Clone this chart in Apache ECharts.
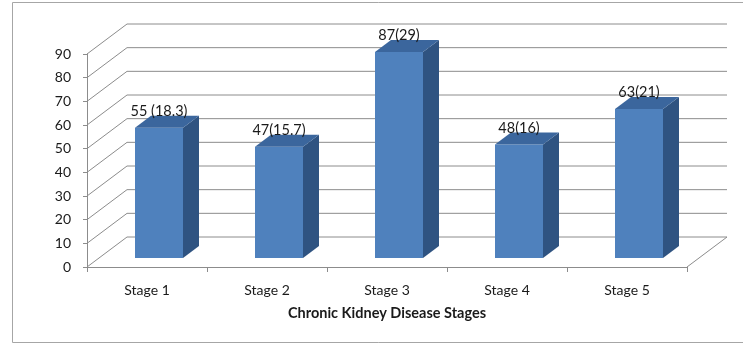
<!DOCTYPE html>
<html>
<head>
<meta charset="utf-8">
<script src="https://cdn.jsdelivr.net/npm/echarts@6/dist/echarts.min.js"></script>
<style>
  html, body { margin: 0; padding: 0; background: #fff; }
  #chart { width: 743px; height: 345px; }
</style>
</head>
<body>
<div id="chart"></div>
<script>
// CKD patients per stage; bracketed figures are the stage percentages
const categories = ['Stage 1', 'Stage 2', 'Stage 3', 'Stage 4', 'Stage 5'];
const patients = [55, 47, 87, 48, 63];
const valueLabels = ['55 (18.3)', '47(15.7)', '87(29)', '48(16)', '63(21)'];
const yTicks = [0, 10, 20, 30, 40, 50, 60, 70, 80, 90];
const xTitle = 'Chronic Kidney Disease Stages';

const FONT = 'Lato, "Open Sans", "DejaVu Sans", sans-serif';
const LINE = '#8c8c8c';

const chart = echarts.init(document.getElementById('chart'), null, { renderer: 'canvas' });

// Perspective offset of the chart floor, expressed relative to one category band
function depth(api) {
  const band = api.size([1, 0])[0];
  return { band: band, dx: band / 3, dy: -band / 4 };
}

// Back-wall gridlines with their diagonals running back from the value axis
const wallSeries = {
  type: 'custom',
  silent: true,
  z: 1,
  data: yTicks.map(v => [0, v]),
  encode: { x: 0, y: 1 },
  renderItem: function (params, api) {
    const v = api.value(1);
    const d = depth(api);
    const y = api.coord([0, v])[1];
    const xL = api.coord([0, v])[0] - d.band / 2;
    const xR = api.coord([categories.length - 1, v])[0] + d.band / 2;
    const children = [{
      type: 'polyline',
      shape: { points: [[xL, y], [xL + d.dx, y + d.dy], [xR + d.dx, y + d.dy]] },
      style: { stroke: LINE, lineWidth: 1, fill: null }
    }];
    if (v === 0) {
      children.push({
        type: 'line',
        shape: { x1: xR, y1: y, x2: xR + d.dx, y2: y + d.dy },
        style: { stroke: LINE, lineWidth: 1 }
      });
    }
    return { type: 'group', children: children };
  }
};

// Box-shaped columns: front face, darker side and top, value caption above
const barSeries = {
  type: 'custom',
  z: 2,
  data: patients.map((v, i) => [i, v]),
  encode: { x: 0, y: 1 },
  renderItem: function (params, api) {
    const i = api.value(0);
    const v = api.value(1);
    const d = depth(api);
    const top = api.coord([i, v]);
    const base = api.coord([i, 0]);
    const f = 0.3, thick = 0.4;
    const bw = d.band * 0.4;
    const xl = top[0] - bw / 2 + f * d.dx;
    const xr = xl + bw;
    const yt = top[1] + f * d.dy;
    const yb = base[1] + f * d.dy;
    const bdx = thick * d.dx, bdy = thick * d.dy;
    return {
      type: 'group',
      children: [
        {
          type: 'rect',
          shape: { x: xl, y: yt, width: bw, height: yb - yt },
          style: { fill: '#4f81bd' }
        },
        {
          type: 'polygon',
          shape: { points: [[xr, yt], [xr + bdx, yt + bdy], [xr + bdx, yb + bdy], [xr, yb]] },
          style: { fill: '#2f5381' }
        },
        {
          type: 'polygon',
          shape: { points: [[xl, yt], [xl + bdx, yt + bdy], [xr + bdx, yt + bdy], [xr, yt]] },
          style: { fill: '#3b669d' }
        },
        {
          type: 'text',
          style: {
            x: xl + bw / 2,
            y: yt + bdy + 3,
            text: valueLabels[params.dataIndex],
            fill: '#1a1a1a',
            font: '14.5px ' + FONT,
            textAlign: 'center',
            textVerticalAlign: 'bottom'
          }
        }
      ]
    };
  }
};

const option = {
  animation: false,
  backgroundColor: '#fff',
  grid: { left: 87, right: 56, top: 54, bottom: 78, containLabel: false, outerBoundsMode: 'none' },
  graphic: [{
    type: 'rect',
    silent: true,
    shape: { x: 12.5, y: 2.5, width: 740, height: 340 },
    style: { fill: null, stroke: '#a6a6a6', lineWidth: 1 }
  }],
  xAxis: {
    type: 'category',
    data: categories,
    axisLine: { show: true, lineStyle: { color: LINE, width: 1 } },
    axisTick: { show: true, length: 5, lineStyle: { color: LINE } },
    axisLabel: { color: '#1a1a1a', fontFamily: FONT, fontSize: 14, margin: 16 },
    splitLine: { show: false },
    name: xTitle,
    nameLocation: 'middle',
    nameGap: 39,
    nameTextStyle: { color: '#1a1a1a', fontFamily: FONT, fontSize: 14.5, fontWeight: 'bold' }
  },
  yAxis: {
    type: 'value',
    min: 0,
    max: 90,
    interval: 10,
    axisLine: { show: true, lineStyle: { color: LINE, width: 1 } },
    axisTick: { show: true, length: 4, lineStyle: { color: LINE } },
    axisLabel: { color: '#1a1a1a', fontFamily: FONT, fontSize: 14, margin: 16 },
    splitLine: { show: false }
  },
  series: [wallSeries, barSeries]
};

chart.setOption(option);
</script>
</body>
</html>
